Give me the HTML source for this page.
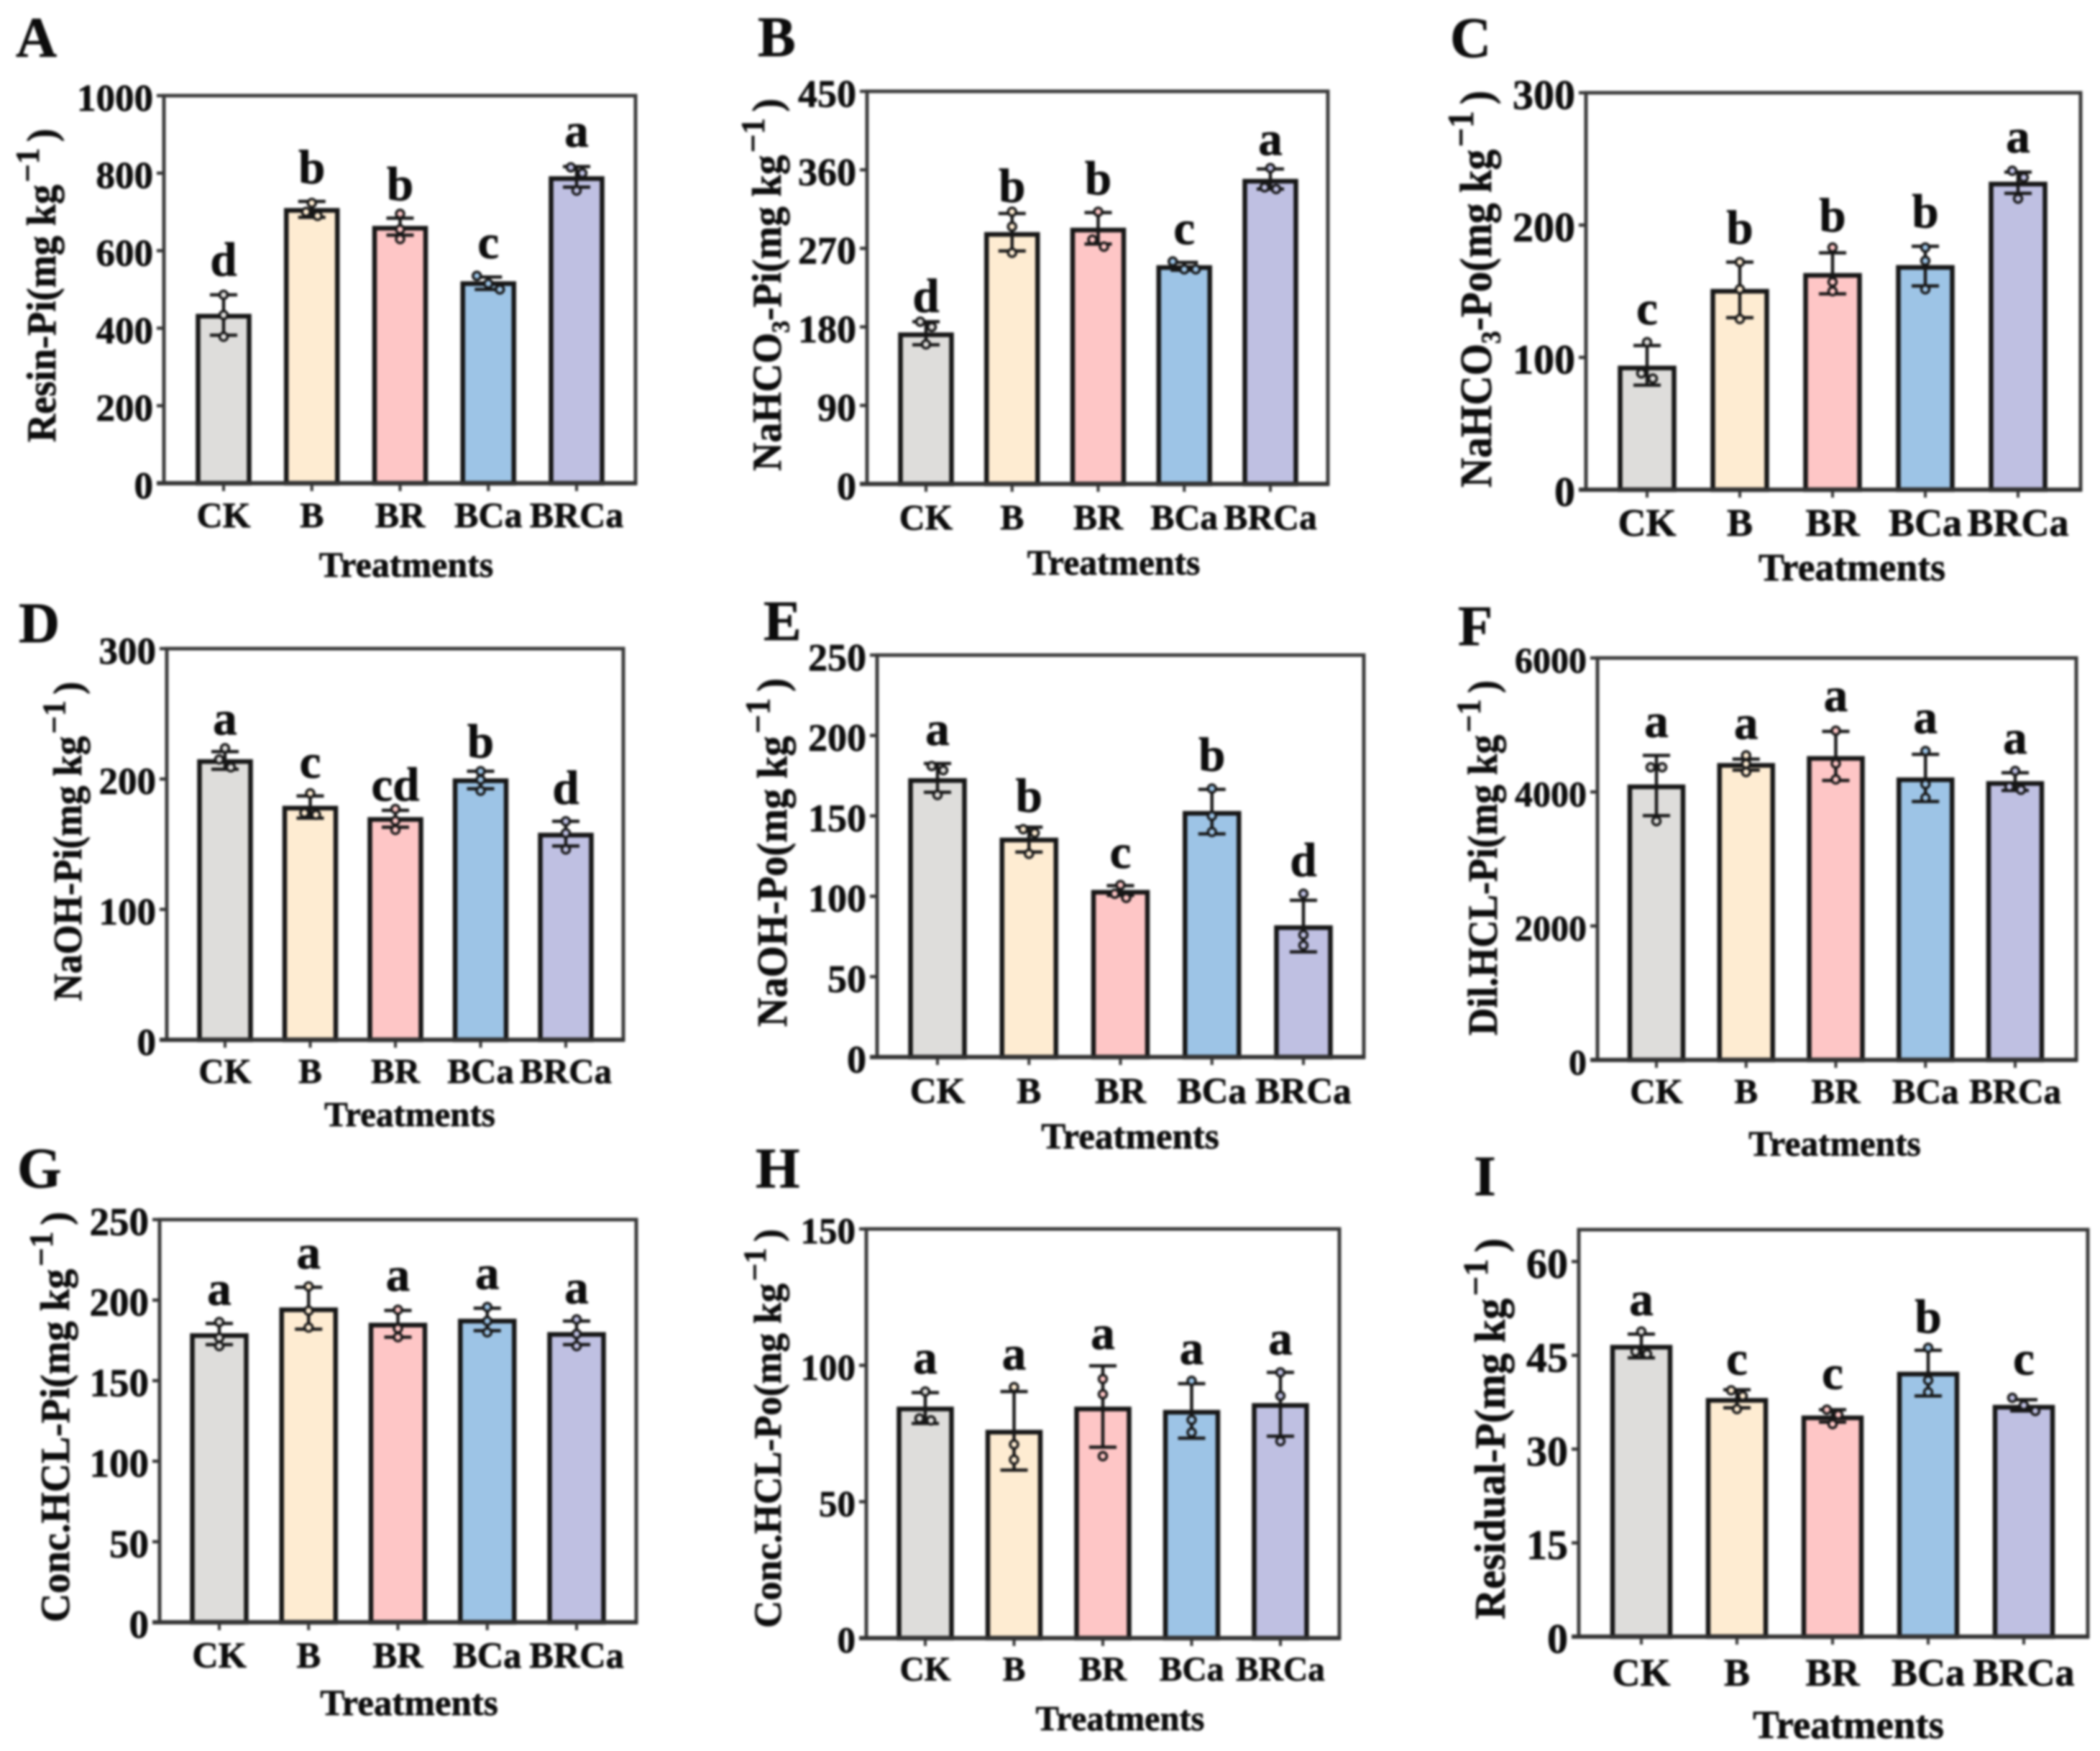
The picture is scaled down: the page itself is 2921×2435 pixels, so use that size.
<!DOCTYPE html>
<html lang="en">
<head>
<meta charset="utf-8">
<title>Soil phosphorus fractions by treatment</title>
<style>
html,body{margin:0;padding:0;background:#fff;width:2921px;height:2435px;overflow:hidden}
svg{display:block;filter:blur(1.5px)}
text{font-family:"Liberation Serif","DejaVu Serif",serif;font-weight:700;fill:#0c0c0c;stroke:#0c0c0c;stroke-width:.7px}
</style>
</head>
<body>
<svg id="figure" xmlns="http://www.w3.org/2000/svg" width="2921" height="2435" viewBox="0 0 2921 2435"></svg>
<script>
const categories = ['CK', 'B', 'BR', 'BCa', 'BRCa'];

const meansA = [431, 704, 658, 515, 786];
const upperA = [486, 727, 684, 532, 817];
const lowerA = [382, 686, 640, 500, 764];
const pointsA = [[486, 434, 378], [723, 700, 690], [695, 655, 630], [535, 515, 500], [815, 800, 755]];
const lettersA = ['d', 'b', 'b', 'c', 'a'];
const letterLevelsA = [535, 774, 730, 581, 868];
const ticksA = [0, 200, 400, 600, 800, 1000];

const meansB = [171, 286, 291, 248, 347];
const upperB = [186, 310, 311, 254, 361];
const lowerB = [159.5, 267, 275, 245, 338];
const pointsB = [[186, 180, 160], [312, 295, 265], [312, 280, 272], [255, 246, 246], [362, 340, 338]];
const lettersB = ['d', 'b', 'b', 'c', 'a'];
const letterLevelsB = [197, 323, 331.6, 275, 377];
const ticksB = [0, 90, 180, 270, 360, 450];

const meansC = [92, 150, 162, 168, 231];
const upperC = [109, 172, 179, 184, 240];
const lowerC = [79, 130, 148, 154, 224];
const pointsC = [[111.5, 88, 84], [172, 151.5, 129], [183, 157, 150], [183, 173, 151.5], [241, 236, 220]];
const lettersC = ['c', 'b', 'b', 'b', 'a'];
const letterLevelsC = [125, 186, 195, 198, 255];
const ticksC = [0, 100, 200, 300];

const meansD = [213.4, 177.7, 169, 198.7, 157];
const upperD = [221, 187, 176, 206, 167.6];
const lowerD = [207.5, 170, 163, 192.5, 148.6];
const pointsD = [[223.6, 215, 209], [189, 174, 172.6], [177, 168, 161], [206, 199.5, 191], [167.6, 158.5, 146]];
const lettersD = ['a', 'c', 'cd', 'b', 'd'];
const letterLevelsD = [234, 201, 183.4, 216.5, 181];
const ticksD = [0, 100, 200, 300];

const meansE = [172, 135, 102.5, 151.6, 80.5];
const upperE = [182.6, 143, 106.6, 166.5, 97.5];
const lowerE = [164.7, 127.5, 100.5, 138.8, 65.4];
const pointsE = [[181, 178.4, 163], [141.7, 139.4, 126.4], [107, 101.6, 99], [167, 150, 140], [101.6, 76, 69.5]];
const lettersE = ['a', 'b', 'c', 'b', 'd'];
const letterLevelsE = [194, 152.5, 117.7, 178, 112.4];
const ticksE = [0, 50, 100, 150, 200, 250];

const meansF = [4077, 4397, 4501, 4182, 4127];
const upperF = [4545, 4490, 4904, 4562, 4287];
const lowerF = [3647, 4325, 4171, 3857, 4022];
const pointsF = [[4369, 4369, 3565], [4545, 4419, 4298], [4915, 4424, 4187], [4612, 4116, 3912], [4314, 4077, 4033]];
const lettersF = ['a', 'a', 'a', 'a', 'a'];
const letterLevelsF = [4821, 4793, 5207, 4876, 4573];
const ticksF = [0, 2000, 4000, 6000];

const meansG = [178, 194, 184.5, 187, 178.7];
const upperG = [185.5, 208, 193.6, 195, 187];
const lowerG = [172.4, 182, 177, 181, 172.4];
const pointsG = [[186.4, 176.6, 171.5], [208.5, 193.4, 183], [194, 182.4, 177], [195.7, 187, 180], [188, 179, 171.5]];
const lettersG = ['a', 'a', 'a', 'a', 'a'];
const letterLevelsG = [197, 219.7, 205.7, 207, 198];
const ticksG = [0, 50, 100, 150, 200, 250];

const meansH = [84, 75.5, 84, 82.8, 85.3];
const upperH = [90, 90.4, 99.8, 93.3, 97.4];
const lowerH = [78.7, 61.6, 70, 73.3, 74];
const pointsH = [[90.4, 80.5, 79.8], [92, 71, 65.4], [95, 89.4, 66.7], [94.3, 80, 75.4], [97.4, 88.8, 72.2]];
const lettersH = ['a', 'a', 'a', 'a', 'a'];
const letterLevelsH = [97, 98.4, 106, 100.5, 104];
const ticksH = [0, 50, 100, 150];

const meansI = [46.3, 37.8, 35, 42, 36.7];
const upperI = [48.4, 39.5, 36.3, 45.8, 37.9];
const lowerI = [44.6, 36.6, 34.3, 38.5, 36.1];
const pointsI = [[48.8, 45.6, 45.2], [39.4, 38.5, 36.4], [36.3, 35.5, 34], [46.2, 41, 39.1], [38.2, 37, 36.1]];
const lettersI = ['a', 'c', 'c', 'b', 'c'];
const letterLevelsI = [51.4, 41.9, 39.6, 48.6, 41.9];
const ticksI = [0, 15, 30, 45, 60];

const barColors = ['#dedddb', '#feecd2', '#fec6c6', '#9dc4e6', '#bfc0e2'];

const panels = [
  {id:'A', title:'Resin-Pi(mg kg^−1)', means:meansA, upper:upperA, lower:lowerA, points:pointsA, letters:lettersA, levels:letterLevelsA, ticks:ticksA, yMax:1000,
   left:228, right:884, top:133, bottom:672, first:311, last:802, barW:76, tickFs:53, catFs:50, catDy:61,
   xTitleX:565, xTitleY:802, xTitleFs:50, yBase:77, yStart:615, yEnd:179, yFs:57, tagX:22, tagY:79},
  {id:'B', title:'NaHCO_3-Pi(mg kg^−1)', means:meansB, upper:upperB, lower:lowerB, points:pointsB, letters:lettersB, levels:letterLevelsB, ticks:ticksB, yMax:450,
   left:1206, right:1847, top:127, bottom:673, first:1288, last:1767, barW:76, tickFs:54, catFs:49.6, catDy:63,
   xTitleX:1549, xTitleY:799, xTitleFs:49.6, yBase:1086, yStart:655, yEnd:137, yFs:57, tagX:1054, tagY:78},
  {id:'C', title:'NaHCO_3-Po(mg kg^−1)', means:meansC, upper:upperC, lower:lowerC, points:pointsC, letters:lettersC, levels:letterLevelsC, ticks:ticksC, yMax:300,
   left:2206, right:2894, top:129, bottom:681, first:2291, last:2807, barW:80, tickFs:58, catFs:54, catDy:64,
   xTitleX:2576, xTitleY:807, xTitleFs:53.6, yBase:2074, yStart:678, yEnd:126, yFs:62, tagX:2017, tagY:79},
  {id:'D', title:'NaOH-Pi(mg kg^−1)', means:meansD, upper:upperD, lower:lowerD, points:pointsD, letters:lettersD, levels:letterLevelsD, ticks:ticksD, yMax:300,
   left:232, right:867, top:902, bottom:1446, first:313, last:787, barW:76, tickFs:53, catFs:49, catDy:60,
   xTitleX:570, xTitleY:1566, xTitleFs:49, yBase:113, yStart:1392, yEnd:948, yFs:56, tagX:26, tagY:893},
  {id:'E', title:'NaOH-Po(mg kg^−1)', means:meansE, upper:upperE, lower:lowerE, points:pointsE, letters:lettersE, levels:letterLevelsE, ticks:ticksE, yMax:250,
   left:1220, right:1897, top:911, bottom:1470, first:1304, last:1813, barW:80, tickFs:54, catFs:51, catDy:64,
   xTitleX:1572, xTitleY:1597, xTitleFs:51, yBase:1094, yStart:1428, yEnd:943, yFs:59, tagX:1062, tagY:890},
  {id:'F', title:'Dil.HCL-Pi(mg kg^−1)', means:meansF, upper:upperF, lower:lowerF, points:pointsF, letters:lettersF, levels:letterLevelsF, ticks:ticksF, yMax:6000,
   left:2222, right:2888, top:915, bottom:1474, first:2304, last:2803, barW:79, tickFs:50, catFs:49, catDy:60,
   xTitleX:2552, xTitleY:1607, xTitleFs:49.4, yBase:2082, yStart:1440, yEnd:946, yFs:58, tagX:2028, tagY:897},
  {id:'G', title:'Conc.HCL-Pi(mg kg^−1)', means:meansG, upper:upperG, lower:lowerG, points:pointsG, letters:lettersG, levels:letterLevelsG, ticks:ticksG, yMax:250,
   left:222, right:885, top:1696, bottom:2256, first:305, last:802, barW:80, tickFs:55, catFs:50.4, catDy:63,
   xTitleX:569, xTitleY:2385, xTitleFs:51, yBase:96, yStart:2256, yEnd:1685, yFs:57, tagX:24, tagY:1651},
  {id:'H', title:'Conc.HCL-Po(mg kg^−1)', means:meansH, upper:upperH, lower:lowerH, points:pointsH, letters:lettersH, levels:letterLevelsH, ticks:ticksH, yMax:150,
   left:1205, right:1863, top:1709, bottom:2278, first:1287, last:1781, barW:78, tickFs:51, catFs:47.4, catDy:59,
   xTitleX:1558, xTitleY:2406, xTitleFs:48.4, yBase:1086, yStart:2264, yEnd:1709, yFs:54, tagX:1051, tagY:1651},
  {id:'I', title:'Residual-P(mg kg^−1)', means:meansI, upper:upperI, lower:lowerI, points:pointsI, letters:lettersI, levels:letterLevelsI, ticks:ticksI, yMax:65.1,
   left:2196, right:2904, top:1710, bottom:2276, first:2283, last:2815, barW:85, tickFs:58, catFs:54, catDy:68,
   xTitleX:2571, xTitleY:2417, xTitleFs:54.8, yBase:2093, yStart:2252, yEnd:1722, yFs:60, tagX:2050, tagY:1662}
];

const SVG_NS = 'http://www.w3.org/2000/svg';
const svg = document.getElementById('figure');

function make(tag, parent, attrs, content) {
  const node = document.createElementNS(SVG_NS, tag);
  for (const key in attrs) node.setAttribute(key, attrs[key]);
  if (content !== undefined) node.textContent = content;
  parent.appendChild(node);
  return node;
}

function swarmOffsets(values, scaleY) {
  const order = values.map((v, i) => i).sort((a, b) => values[b] - values[a]);
  const offsets = values.map(() => 0);
  let k = 0;
  while (k < order.length) {
    let end = k;
    while (end + 1 < order.length && Math.abs(scaleY(values[order[end + 1]]) - scaleY(values[order[end]])) < 11) end++;
    const size = end - k + 1;
    for (let j = 0; j < size; j++) offsets[order[k + j]] = size === 1 ? 0 : (j - (size - 1) / 2) * 16;
    k = end + 1;
  }
  return offsets;
}

panels.forEach(function (p) {
  const scaleY = v => p.bottom - (v / p.yMax) * (p.bottom - p.top);
  const scaleX = i => p.first + i * (p.last - p.first) / (categories.length - 1);
  const key = p.id.toLowerCase();

  const g = make('g', svg, {});
  
  

  const tag = make('text', g, {x: p.tagX, y: p.tagY, 'font-size': 79}, p.id);
  
  

  const frame = make('rect', g, {x: p.left, y: p.top, width: p.right - p.left, height: p.bottom - p.top, fill: '#fff', stroke: '#3a3a3a', 'stroke-width': 5});
  
  

  p.ticks.forEach(function (t) {
    const y = scaleY(t);
    const tick = make('line', g, {x1: p.left - 10, x2: p.left, y1: y, y2: y, stroke: '#333', 'stroke-width': 4.5});
    
    
    const label = make('text', g, {x: p.left - 15, y: y + 0.338 * p.tickFs + 3, 'font-size': p.tickFs, 'text-anchor': 'end'}, String(t));
    
    
  });

  categories.forEach(function (cat, i) {
    const cx = scaleX(i);
    const bar = make('rect', g, {x: cx - (p.barW - 5) / 2, y: scaleY(p.means[i]), width: p.barW - 5, height: p.bottom - scaleY(p.means[i]), fill: barColors[i], stroke: '#161616', 'stroke-width': 6.5});
    
    

    const stem = make('line', g, {x1: cx, x2: cx, y1: scaleY(p.upper[i]), y2: scaleY(p.lower[i]), stroke: '#161616', 'stroke-width': 4.5});
    
    
    [p.upper[i], p.lower[i]].forEach(function (v) {
      const cap = make('line', g, {x1: cx - 19, x2: cx + 19, y1: scaleY(v), y2: scaleY(v), stroke: '#161616', 'stroke-width': 4.5});
      
      
    });

    const offsets = swarmOffsets(p.points[i], scaleY);
    p.points[i].forEach(function (v, j) {
      const dot = make('circle', g, {cx: cx + offsets[j], cy: scaleY(v), r: 5.5, fill: barColors[i], stroke: '#161616', 'stroke-width': 3.5});
      
      
    });

    const sig = make('text', g, {x: cx, y: scaleY(p.levels[i]), 'font-size': 67, 'text-anchor': 'middle'}, p.letters[i]);
    
    

    const xTick = make('line', g, {x1: cx, x2: cx, y1: p.bottom, y2: p.bottom + 11, stroke: '#333', 'stroke-width': 4});
    
    

    const catLabel = make('text', g, {x: cx, y: p.bottom + p.catDy, 'font-size': p.catFs, 'text-anchor': 'middle'}, cat);
    
    
  });

  const axis = make('line', g, {x1: p.left - 10, x2: p.right + 2, y1: p.bottom, y2: p.bottom, stroke: '#333', 'stroke-width': 6});
  
  

  const xTitle = make('text', g, {x: p.xTitleX, y: p.xTitleY, 'font-size': p.xTitleFs, 'text-anchor': 'middle'}, 'Treatments');
  
  

  const yTitle = make('text', g, {'font-size': p.yFs});
  
  
  const supPart = p.title.split('^');
  const subPart = supPart[0].split('_');
  make('tspan', yTitle, {}, subPart[0]);
  if (subPart.length > 1) {
    make('tspan', yTitle, {dy: p.yFs * 0.2, 'font-size': p.yFs * 0.62}, subPart[1].charAt(0));
    make('tspan', yTitle, {dy: -p.yFs * 0.2}, subPart[1].slice(1));
  }
  const tail = supPart[1];
  make('tspan', yTitle, {dy: -p.yFs * 0.4, dx: p.yFs * 0.06, 'font-size': p.yFs * 0.82}, tail.slice(0, 2));
  make('tspan', yTitle, {dy: p.yFs * 0.4, dx: p.yFs * 0.16}, tail.slice(2));
  const measured = yTitle.getComputedTextLength() + p.yFs * 0.22;
  const fit = (p.yStart - p.yEnd) / measured;
  yTitle.setAttribute('transform', 'translate(' + p.yBase + ' ' + p.yStart + ') rotate(-90) scale(' + fit.toFixed(4) + ' 1)');
});
</script>
</body>
</html>
